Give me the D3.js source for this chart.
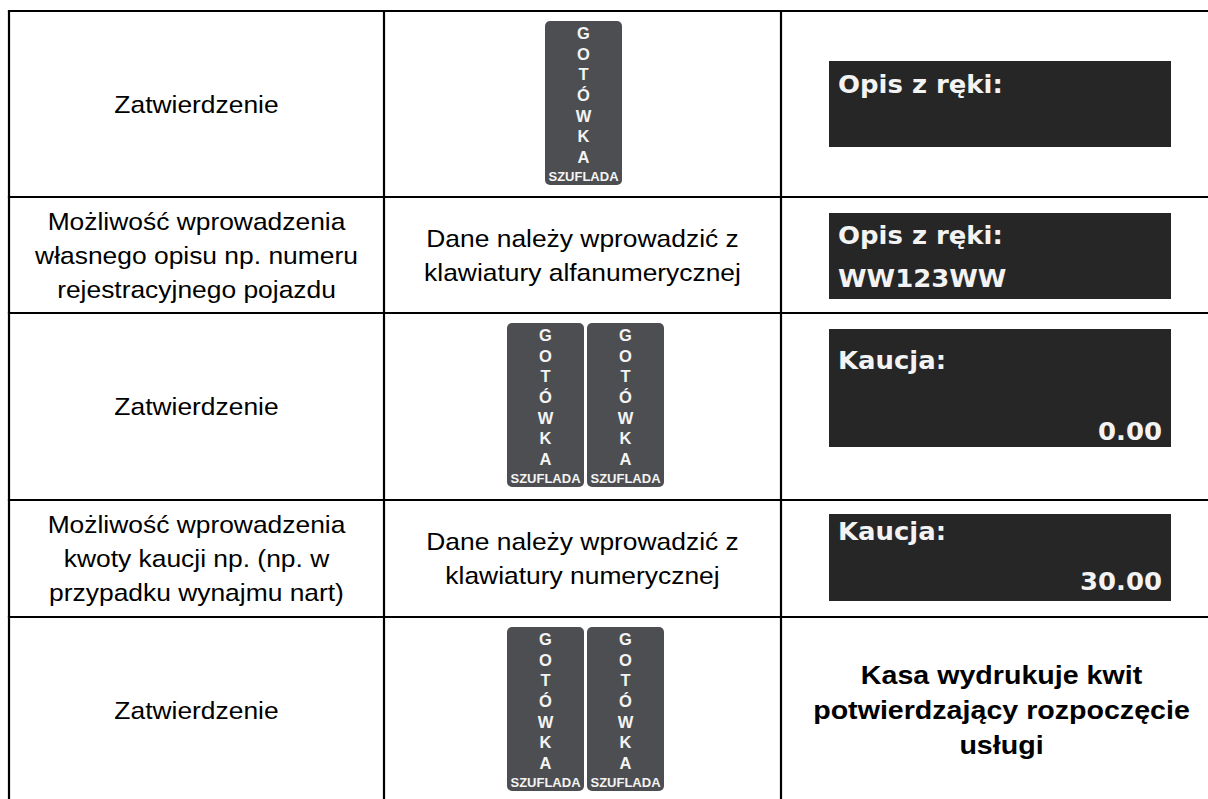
<!DOCTYPE html>
<html><head><meta charset="utf-8">
<script src="https://cdn.jsdelivr.net/npm/d3@7"></script>
<style>html,body{margin:0;padding:0;background:#fff;}svg{display:block;}</style>
</head><body><div id="c"></div>
<script>
// ---- data ----
const actionTexts = [
  ["Zatwierdzenie"],
  ["Możliwość wprowadzenia", "własnego opisu np. numeru", "rejestracyjnego pojazdu"],
  ["Zatwierdzenie"],
  ["Możliwość wprowadzenia", "kwoty kaucji np. (np. w", "przypadku wynajmu nart)"],
  ["Zatwierdzenie"]
];
const keyCounts = [1, 0, 2, 0, 2];
const middleTexts = [
  null,
  ["Dane należy wprowadzić z", "klawiatury alfanumerycznej"],
  null,
  ["Dane należy wprowadzić z", "klawiatury numerycznej"],
  null
];
const keyLetters = ["G", "O", "T", "Ó", "W", "K", "A"];
const keyCaption = "SZUFLADA";
const displayTitles = ["Opis z ręki:", "Opis z ręki:", "Kaucja:", "Kaucja:", null];
const displayLeftValues = ["", "WW123WW", "", "", null];
const displayRightValues = ["", "", "0.00", "30.00", null];
const finalText = ["Kasa wydrukuje kwit", "potwierdzający rozpoczęcie", "usługi"];

// ---- layout ----
const W = 1208, H = 799;
const rowEdges = [11, 197, 313, 500, 617, 803];
const colEdges = [9, 384, 781, 1224];
const displayBoxes = [[61, 147, 32, 0], [213, 299, 31, 74], [329, 447, 40, 111], [514, 601, 26, 76]];
const dispX0 = 829, dispX1 = 1171;

const svg = d3.select("#c").append("svg").attr("width", W).attr("height", H);
svg.append("rect").attr("width", W).attr("height", H).attr("fill", "#fff");

const rows = d3.range(actionTexts.length);
const y = i => rowEdges[i];
const rowMid = i => (rowEdges[i] + rowEdges[i + 1]) / 2;
const colMid = j => (colEdges[j] + colEdges[j + 1]) / 2;

function multiline(g, lines, cx, cy, size, weight, lh, sx) {
  const cap = size * 0.716;
  const n = lines.length;
  lines.forEach((t, k) => {
    const by = cy + (k - (n - 1) / 2) * lh + cap / 2;
    g.append("text")
      .attr("transform", `translate(${cx},${by}) scale(${sx},1)`)
      .attr("text-anchor", "middle")
      .attr("font-family", "Liberation Sans, Arial, sans-serif")
      .attr("font-size", size).attr("font-weight", weight)
      .attr("fill", "#000").text(t);
  });
}

// left column
rows.forEach(i => multiline(svg, actionTexts[i], colMid(0), rowMid(i), 24, "normal", 34, 1.1));
// middle texts
rows.forEach(i => { if (middleTexts[i]) multiline(svg, middleTexts[i], colMid(1), rowMid(i), 24, "normal", 34, 1.1); });

// keys
const keyW = 77, keyH = 164, keyGap = 3;
rows.forEach(i => {
  const n = keyCounts[i];
  if (!n) return;
  const total = n * keyW + (n - 1) * keyGap;
  const x0 = colMid(1) - total / 2 + (n > 1 ? 3 : 1);
  d3.range(n).forEach(k => {
    const kx = x0 + k * (keyW + keyGap);
    const ky = y(i) + 10;
    const g = svg.append("g");
    g.append("rect").attr("x", kx).attr("y", ky).attr("width", keyW).attr("height", keyH)
      .attr("rx", 5).attr("fill", "#4d4e52");
    const ls = d3.scalePoint().domain(d3.range(keyLetters.length)).range([12, 136]);
    keyLetters.forEach((L, m) => {
      g.append("text").attr("x", kx + keyW / 2).attr("y", ky + ls(m) + 6)
        .attr("text-anchor", "middle").attr("font-family", "Liberation Sans, Arial, sans-serif")
        .attr("font-weight", "bold").attr("font-size", 16.5).attr("fill", "#f4f4f4").text(L);
    });
    g.append("text").attr("x", kx + keyW / 2).attr("y", ky + 155 + 5)
      .attr("text-anchor", "middle").attr("font-family", "Liberation Sans, Arial, sans-serif")
      .attr("font-weight", "bold").attr("font-size", 13).attr("fill", "#f4f4f4").text(keyCaption);
  });
});

// displays
rows.forEach(i => {
  if (displayTitles[i] === null) return;
  const [t, b, o1, o2] = displayBoxes[i];
  svg.append("rect").attr("x", dispX0).attr("y", t).attr("width", dispX1 - dispX0).attr("height", b - t)
    .attr("fill", "#262626");
  const txt = (s, x, yy, anchor) => svg.append("text")
    .attr("transform", `translate(${x},${yy}) scale(1.08,1)`)
    .attr("text-anchor", anchor).attr("font-family", "DejaVu Sans, sans-serif")
    .attr("font-weight", "bold").attr("font-size", 24)
    .attr("fill", "#f3f3f3").text(s);
  txt(displayTitles[i], dispX0 + 9, t + o1, "start");
  if (displayLeftValues[i]) txt(displayLeftValues[i], dispX0 + 9, t + o2, "start");
  if (displayRightValues[i]) txt(displayRightValues[i], dispX1 - 9, t + o2, "end");
});

// final bold text
multiline(svg, finalText, colMid(2) - 1, 710, 26, "bold", 35, 1.1);

// grid lines
const grid = svg.append("g").attr("stroke", "#000").attr("stroke-width", 2.2);
rowEdges.forEach(yy => grid.append("line").attr("x1", colEdges[0] - 1.1).attr("x2", colEdges[3]).attr("y1", yy).attr("y2", yy));
colEdges.forEach(xx => grid.append("line").attr("x1", xx).attr("x2", xx).attr("y1", rowEdges[0]).attr("y2", rowEdges[5]));
</script>
</body></html>
